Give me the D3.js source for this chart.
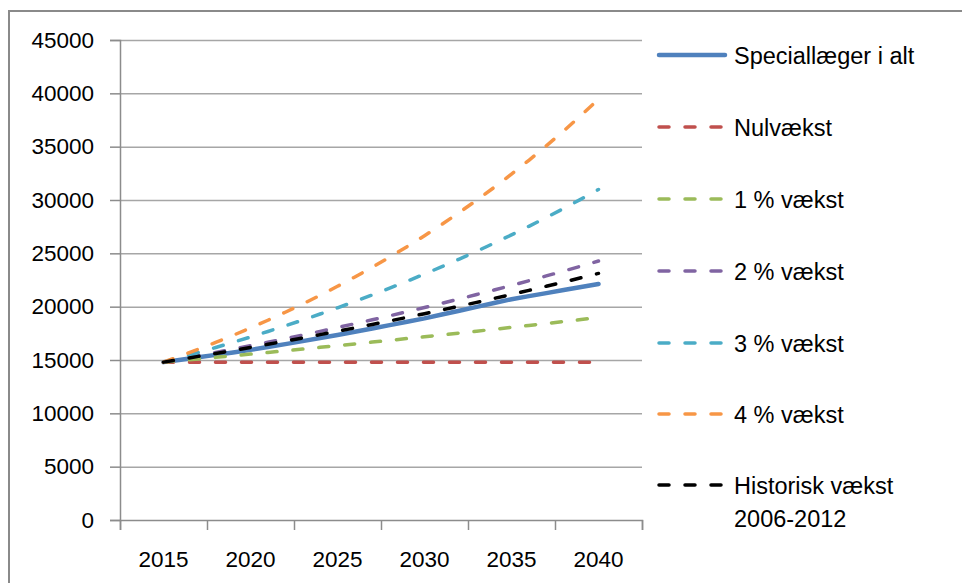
<!DOCTYPE html>
<html>
<head>
<meta charset="utf-8">
<script src="https://cdn.jsdelivr.net/npm/d3@7"></script>
<style>
  html, body { margin: 0; padding: 0; background: #fff; }
  svg { display: block; }
  text { font-family: "Liberation Sans", Arial, sans-serif; fill: #000; }
</style>
</head>
<body>
<svg id="chart" width="962" height="583"></svg>
<script>
// ---- data ----
const years = [2015,2016,2017,2018,2019,2020,2021,2022,2023,2024,2025,2026,2027,2028,2029,2030,2031,2032,2033,2034,2035,2036,2037,2038,2039,2040];
const speciallaeger = [14800,15020,15250,15480,15710,15950,16220,16490,16770,17060,17350,17650,17960,18270,18590,18900,19260,19620,19980,20340,20700,20990,21270,21560,21840,22125];
const nulvaekst = [14800,14800,14800,14800,14800,14800,14800,14800,14800,14800,14800,14800,14800,14800,14800,14800,14800,14800,14800,14800,14800,14800,14800,14800,14800,14800];
const vaekst1 = [14800,14948,15097,15248,15401,15555,15710,15868,16026,16187,16348,16512,16677,16844,17012,17182,17354,17528,17703,17880,18059,18239,18422,18606,18792,18980];
const vaekst2 = [14800,15096,15398,15706,16020,16340,16667,17001,17341,17687,18041,18402,18770,19145,19528,19919,20317,20724,21138,21561,21992,22432,22881,23338,23805,24281];
const vaekst3 = [14800,15244,15701,16172,16658,17157,17672,18202,18748,19311,19890,20487,21101,21734,22386,23058,23750,24462,25196,25952,26730,27532,28358,29209,30085,30988];
const vaekst4 = [14800,15392,16008,16648,17314,18006,18727,19476,20255,21065,21908,22784,23695,24643,25629,26654,27720,28829,29982,31181,32429,33726,35075,36478,37937,39454];
const historisk = [14800,15066,15338,15614,15895,16181,16472,16769,17070,17378,17690,18009,18333,18663,18999,19341,19689,20044,20404,20772,21145,21526,21914,22308,22710,23118];
const seriesNames = ["Speciallæger i alt","Nulvækst","1 % vækst","2 % vækst","3 % vækst","4 % vækst",["Historisk vækst","2006-2012"]];
const xTickLabels = [2015,2020,2025,2030,2035,2040];
const yTickLabels = [0,5000,10000,15000,20000,25000,30000,35000,40000,45000];

// ---- styling ----
const seriesData = [speciallaeger, nulvaekst, vaekst1, vaekst2, vaekst3, vaekst4, historisk];
const colors = ["#4F81BD","#C0504D","#9BBB59","#8064A2","#4BACC6","#F79646","#000000"];
const dashed = [false,true,true,true,true,true,true];
const widths = [4.5,3.5,3.5,3.5,3.5,3.5,3.5];

const svg = d3.select("#chart");
const pLeft = 120, pRight = 642, pTop = 40, pBottom = 520;

const x = d3.scaleLinear().domain([2012.5, 2042.5]).range([pLeft, pRight]);
const y = d3.scaleLinear().domain([0, 45000]).range([pBottom, pTop]);

// outer frame
svg.append("rect").attr("x", 9).attr("y", 11).attr("width", 1000).attr("height", 700)
  .attr("fill", "none").attr("stroke", "#8a8a8a").attr("stroke-width", 2);

// gridlines
svg.append("g").selectAll("line").data(yTickLabels.filter(d => d > 0)).join("line")
  .attr("x1", pLeft).attr("x2", pRight)
  .attr("y1", d => y(d) + 0.5).attr("y2", d => y(d) + 0.5)
  .attr("stroke", "#a6a6a6").attr("stroke-width", 1.5);

// y axis
const yAxis = svg.append("g").attr("transform", `translate(${pLeft},0)`)
  .call(d3.axisLeft(y).tickValues(yTickLabels).tickSize(10).tickPadding(16).tickFormat(d3.format("d")));
yAxis.select(".domain").attr("stroke", "#8c8c8c").attr("stroke-width", 1.5);
yAxis.selectAll(".tick line").attr("stroke", "#8c8c8c").attr("stroke-width", 1.5);
yAxis.selectAll("text").attr("font-size", 22.5).attr("fill", "#000")
  .style("font-family", "'Liberation Sans', Arial, sans-serif");

// x axis: tick marks at category boundaries, labels at category centers
const xBoundaries = d3.range(0, 7).map(i => 2012.5 + i * 5);
const xAxis = svg.append("g").attr("transform", `translate(0,${pBottom})`)
  .call(d3.axisBottom(x).tickValues(xBoundaries).tickSize(10).tickFormat(""));
xAxis.select(".domain").attr("stroke", "#8c8c8c").attr("stroke-width", 1.5);
xAxis.selectAll(".tick line").attr("stroke", "#8c8c8c").attr("stroke-width", 1.5);
svg.append("g").selectAll("text").data(xTickLabels).join("text")
  .attr("x", d => x(d)).attr("y", 567)
  .attr("text-anchor", "middle").attr("font-size", 22.5).text(d => d);

// lines
const line = d3.line().x((d, i) => x(years[i])).y(d => y(d));
seriesData.forEach((s, k) => {
  svg.append("path").datum(s)
    .attr("d", line)
    .attr("fill", "none")
    .attr("stroke", colors[k])
    .attr("stroke-width", widths[k])
    .attr("stroke-linecap", "round")
    .attr("stroke-linejoin", "round")
    .attr("stroke-dasharray", dashed[k] ? "10 16" : null);
});

// legend
const legY = [55, 127, 199, 271, 343, 414, 485];
seriesNames.forEach((name, k) => {
  const g = svg.append("g");
  g.append("line").attr("x1", 659).attr("x2", 725).attr("y1", legY[k]).attr("y2", legY[k])
    .attr("stroke", colors[k]).attr("stroke-width", widths[k])
    .attr("stroke-linecap", "round")
    .attr("stroke-dasharray", dashed[k] ? "10 16" : null);
  const lines = Array.isArray(name) ? name : [name];
  lines.forEach((t, j) => {
    g.append("text").attr("x", 734).attr("y", legY[k] + j * 33 + 8.5)
      .attr("font-size", 23.5).text(t);
  });
});
</script>
</body>
</html>
